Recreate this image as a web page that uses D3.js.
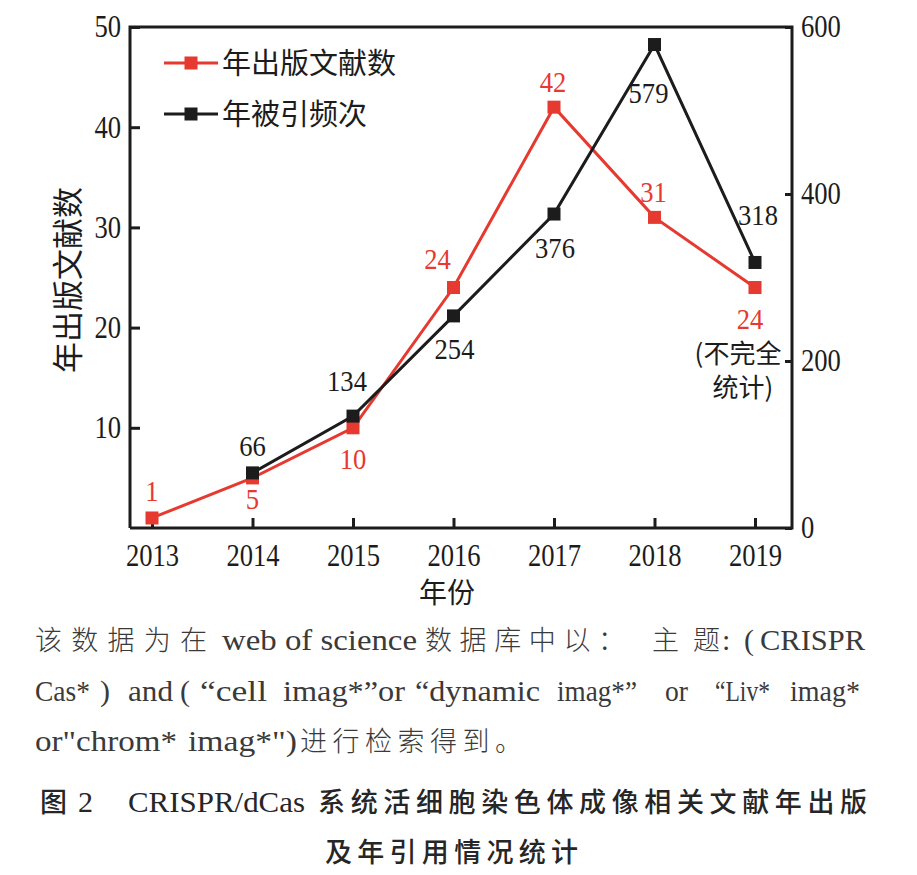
<!DOCTYPE html>
<html><head><meta charset="utf-8">
<script src="https://cdn.jsdelivr.net/npm/d3@7"></script>
<style>body{margin:0;background:#fff}svg{display:block}</style>
</head><body>
<svg id="c" width="917" height="875"></svg>
<script>
const years = [2013, 2014, 2015, 2016, 2017, 2018, 2019];
const publications = [1, 5, 10, 24, 42, 31, 24];
const citations = [null, 66, 134, 254, 376, 579, 318];
const leftTicks = [10, 20, 30, 40, 50];
const rightTicks = [0, 200, 400, 600];
const seriesNames = ["年出版文献数", "年被引频次"];
const xTitle = "年份";
const note2019 = ["(不完全", "统计)"];
// caption text, split into runs: [text, x, width, isLatin]
const captionLines = [
  [["该数据为在", 35, 172, 0], ["web of science", 222, 195, 1], ["数据库中以：", 425, 200, 0], ["主题", 652, 68, 0], [":", 722, null, 1], ["(", 744, null, 1], ["CRISPR", 760, 105, 1]],
  [["Cas*", 35, 55, 1], [")", 100, null, 1], ["and", 128, 45, 1], ["(", 180, null, 1], ["“cell", 200, 67, 1], ["imag*”or", 283, 122, 1], ["“dynamic", 415, 125, 1], ["imag*”", 557, 80, 1], ["or", 665, 23, 1], ["“Liv*", 715, 55, 1], ["imag*", 790, 70, 1]],
  [["or\"chrom*", 35, 142, 1], ["imag*\")", 188, 109, 1], ["进行检索得到。", 300, 222, 0]]
];
const figTitle = [
  [["图", 40, 28, 0], ["2", 78, 15, 1], ["CRISPR/dCas", 128, 177, 1], ["系统活细胞染色体成像相关文献年出版", 318, 549, 0]],
  [["及年引用情况统计", 325, 253, 0]]
];

const RED = "#e6392f", BLK = "#1c1c1c";
const svg = d3.select("#c");
const L = 130, R = 792, T = 27, B = 528;
const x = d3.scaleLinear().domain([2013, 2019]).range([152, 755]);
const yL = d3.scaleLinear().domain([0, 50]).range([B, T]);
const yR = d3.scaleLinear().domain([0, 600]).range([B, T]);
const serif = "'Liberation Serif',serif";
const cjk = "'Noto Sans CJK SC',sans-serif";
const DIG = 13.3; // condensed digit width
function condense(sel, fs) {
  sel.attr("font-family", serif).attr("font-size", fs).attr("fill", BLK)
    .each(function() { const n = this.textContent.length; d3.select(this).attr("textLength", DIG * n).attr("lengthAdjust", "spacingAndGlyphs"); });
}

// frame
svg.append("path").attr("d", `M${L},${B}V${T}H${R}V${B}H${L}`)
  .attr("fill", "none").attr("stroke", BLK).attr("stroke-width", 3);

// axes
const gx = svg.append("g").attr("transform", `translate(0,${B})`)
  .call(d3.axisBottom(x).tickValues(years).tickFormat(d3.format("d")).tickSize(-10).tickPadding(15));
gx.select(".domain").remove();
gx.selectAll("line").attr("stroke", BLK).attr("stroke-width", 3);
gx.selectAll("text").call(condense, 32).attr("dy", "0.71em");

const gl = svg.append("g").attr("transform", `translate(${L},0)`)
  .call(d3.axisLeft(yL).tickValues(leftTicks).tickSize(-10).tickPadding(9));
gl.select(".domain").remove();
gl.selectAll("line").attr("stroke", BLK).attr("stroke-width", 3);
gl.selectAll("text").call(condense, 31);

const gr = svg.append("g").attr("transform", `translate(${R},0)`)
  .call(d3.axisRight(yR).tickValues(rightTicks).tickSize(-7).tickPadding(9));
gr.select(".domain").remove();
gr.selectAll("line").attr("stroke", BLK).attr("stroke-width", 3);
gr.selectAll("text").call(condense, 31);

// lines + markers
const pubData = years.map((yr, i) => ({yr, v: publications[i], i}));
const citData = years.map((yr, i) => ({yr, v: citations[i], i})).filter(d => d.v != null);
svg.append("path").datum(pubData).attr("d", d3.line().x(d => x(d.yr)).y(d => yL(d.v)))
  .attr("fill", "none").attr("stroke", RED).attr("stroke-width", 3);
svg.append("path").datum(citData).attr("d", d3.line().x(d => x(d.yr)).y(d => yR(d.v)))
  .attr("fill", "none").attr("stroke", BLK).attr("stroke-width", 3);
const S = 13;
svg.selectAll(".mr").data(pubData).join("rect").attr("x", d => x(d.yr) - S/2).attr("y", d => yL(d.v) - S/2)
  .attr("width", S).attr("height", S).attr("fill", RED);
svg.selectAll(".mb").data(citData).join("rect").attr("x", d => x(d.yr) - S/2).attr("y", d => yR(d.v) - S/2)
  .attr("width", S).attr("height", S).attr("fill", BLK);

// value labels (offsets from the point)
const pubOff = [[0, -17], [0, 31], [0, 41], [-16, -19], [-1, -15], [-1, -15], [-5, 41]];
const citOff = [null, [0, -17], [-6, -25], [1, 43], [1, 44], [-6, 58], [3, -37]];
svg.selectAll(".lp").data(pubData).join("text")
  .attr("x", d => x(d.yr) + pubOff[d.i][0]).attr("y", d => yL(d.v) + pubOff[d.i][1])
  .attr("text-anchor", "middle").text(d => d.v).call(condense, 29).attr("fill", RED);
svg.selectAll(".lc").data(citData).join("text")
  .attr("x", d => x(d.yr) + citOff[d.i][0]).attr("y", d => yR(d.v) + citOff[d.i][1])
  .attr("text-anchor", "middle").text(d => d.v).call(condense, 29);
svg.append("text").attr("x", 738).attr("y", 363).attr("text-anchor", "middle").attr("font-family", cjk)
  .attr("font-size", 26).attr("fill", BLK).text(note2019[0]);
svg.append("text").attr("x", 743).attr("y", 397).attr("text-anchor", "middle").attr("font-family", cjk)
  .attr("font-size", 26).attr("fill", BLK).text(note2019[1]);

// legend
[{c: RED, y: 63, t: seriesNames[0]}, {c: BLK, y: 114, t: seriesNames[1]}].forEach(d => {
  svg.append("line").attr("x1", 164).attr("x2", 218).attr("y1", d.y).attr("y2", d.y).attr("stroke", d.c).attr("stroke-width", 3);
  svg.append("rect").attr("x", 191 - S/2).attr("y", d.y - S/2).attr("width", S).attr("height", S).attr("fill", d.c);
  svg.append("text").attr("x", 222).attr("y", d.y + 11).attr("font-family", cjk).attr("font-size", 29).attr("fill", BLK).text(d.t);
});

// axis titles
svg.append("text").attr("transform", "translate(79,280) rotate(-90)").attr("text-anchor", "middle")
  .attr("font-family", cjk).attr("font-size", 31).attr("fill", BLK).text(seriesNames[0]);
svg.append("text").attr("x", 447).attr("y", 603).attr("text-anchor", "middle")
  .attr("font-family", cjk).attr("font-size", 28).attr("fill", BLK).text(xTitle);

// caption
function runs(line, y, opts) {
  line.forEach(([t, x0, w, latin]) => {
    const el = svg.append("text").attr("x", x0).attr("y", y)
      .attr("font-family", latin ? serif : cjk)
      .attr("font-size", latin ? 30 : 27)
      .attr("font-weight", latin ? 400 : opts.w)
      .attr("fill", opts.c)
      .text(t);
    if (w != null) el.attr("textLength", w).attr("lengthAdjust", latin ? "spacingAndGlyphs" : "spacing");
  });
}
[650, 701, 751].forEach((y, i) => runs(captionLines[i], y, {w: 300, c: "#3a3a3a"}));
runs(figTitle[0], 812, {w: 500, c: "#262626"});
runs(figTitle[1], 862, {w: 500, c: "#262626"});
</script>
</body></html>
